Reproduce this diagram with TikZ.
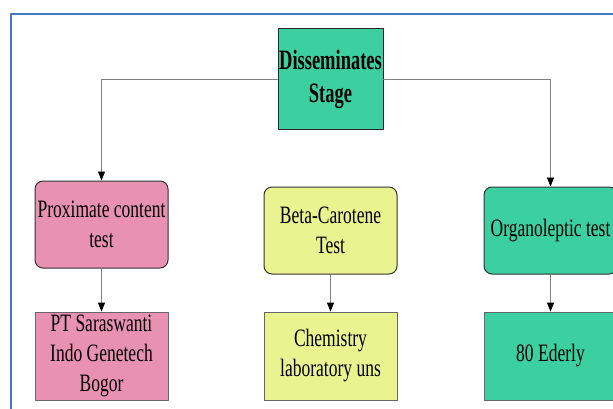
\documentclass[tikz,border=0pt]{standalone}
\usepackage{fontspec}
\newfontfamily\boxfont[FakeStretch=0.70]{Liberation Serif}
\newfontfamily\stagefont[FakeStretch=0.66]{Liberation Serif}
\usetikzlibrary{arrows.meta}
\definecolor{stagegreen}{RGB}{60,207,160}
\definecolor{testpink}{RGB}{232,145,177}
\definecolor{testyellow}{RGB}{233,243,143}
\definecolor{frameblue}{RGB}{70,120,200}
\tikzset{
  stagebox/.style={draw=black!85, line width=1pt, fill=stagegreen, minimum width=105pt, minimum height=101pt, inner sep=1pt, align=center, font=\stagefont\bfseries\fontsize{28}{33}\selectfont},
  testbox/.style={draw=black!80, line width=1pt, rounded corners=8pt, minimum width=133pt, minimum height=87pt, inner sep=2pt, align=center, font=\boxfont\fontsize{25}{30}\selectfont},
  placebox/.style={draw=black!60, line width=0.8pt, minimum width=133pt, minimum height=88pt, inner sep=1pt, align=center, font=\boxfont\fontsize{25}{30}\selectfont},
  link/.style={draw=black!50, line width=0.8pt}
}
\begin{document}
\begin{tikzpicture}[line cap=round,line join=round,>={Triangle[length=9pt,width=7pt,black]},x=1pt,y=-1pt]
			\useasboundingbox (0,0) rectangle (613,409);
			\draw[frameblue, line width=1.5pt] (11,430) -- (11,14) -- (640,14);
			% top of the scheme
			\node[stagebox] (stage) at (330.5,79.5) {Disseminates\\Stage};
			% tests
			\node[testbox, fill=testpink] (prox) at (101.5,224.5) {Proximate content\\test};
			\node[testbox, fill=testyellow] (beta) at (330.5,230.5) {Beta-Carotene\\Test};
			\node[testbox, fill=stagegreen] (organo) at (550.5,230.5) {Organoleptic test};
			% places
			\node[placebox, fill=testpink] (pt) at (101.5,356) {PT Saraswanti\\Indo Genetech\\Bogor};
			\node[placebox, fill=testyellow] (chem) at (330.5,356) {Chemistry\\laboratory uns};
			\node[placebox, fill=stagegreen] (ederly) at (550.5,356) {80 Ederly};
			\draw[link,->] (stage.west) -| (prox.north);
			\draw[link,->] (stage.east) -| (organo.north);
			\draw[link,->] (prox.south) -- (pt.north);
			\draw[link,->] (beta.south) -- (chem.north);
			\draw[link,->] (organo.south) -- (ederly.north);
\end{tikzpicture}
\end{document}
